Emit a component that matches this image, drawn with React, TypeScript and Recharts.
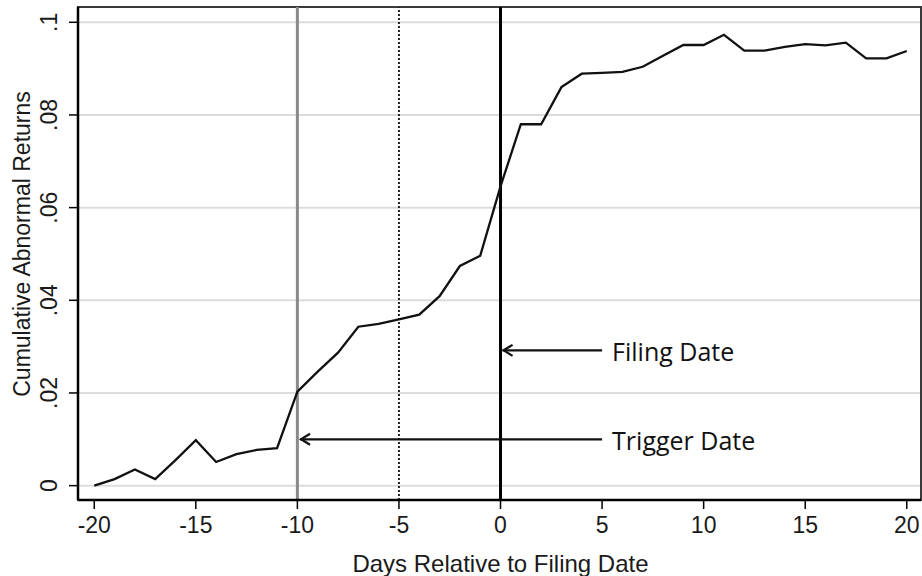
import React from "react";
import {
  LineChart,
  Line,
  XAxis,
  YAxis,
  CartesianGrid,
  ReferenceLine,
  ReferenceArea,
  Label,
} from "recharts";

const days = [
  -20, -19, -18, -17, -16, -15, -14, -13, -12, -11, -10, -9, -8, -7, -6, -5, -4, -3, -2, -1,
  0, 1, 2, 3, 4, 5, 6, 7, 8, 9, 10, 11, 12, 13, 14, 15, 16, 17, 18, 19, 20,
];
const car = [
  0.0, 0.0014, 0.0035, 0.0014, 0.0055, 0.0098, 0.0051, 0.0068, 0.0077, 0.0081, 0.0203,
  0.0246, 0.0287, 0.0343, 0.0349, 0.0359, 0.0369, 0.0409, 0.0474, 0.0496,
  0.0646, 0.078, 0.078, 0.086, 0.0889, 0.0891, 0.0893, 0.0904, 0.0928, 0.0951, 0.0951,
  0.0973, 0.0939, 0.0939, 0.0947, 0.0953, 0.095, 0.0956, 0.0922, 0.0922, 0.0938,
];
const xTicks = [-20, -15, -10, -5, 0, 5, 10, 15, 20];
const yTicks = [0, 0.02, 0.04, 0.06, 0.08, 0.1];
const yTickLabels = ["0", ".02", ".04", ".06", ".08", ".1"];
const xDomain = [-20.8, 20.7];
const yDomain = [-0.0031, 0.1033];

const refDays = { trigger: -10, mid: -5, filing: 0 };
const arrows = [
  { label: "Filing Date", from: 5.0, to: 0.1, y: 0.0292 },
  { label: "Trigger Date", from: 5.0, to: -9.87, y: 0.01 },
];

const data = days.map((d, i) => ({ day: d, car: car[i] }));

const AXIS_FONT = "'Liberation Sans', Arial, sans-serif";

const makeArrow = (text: string) => (props: any) => {
  const { x1, y1, x2, y2 } = props;
  const tipX = Math.min(x1, x2);
  const endX = Math.max(x1, x2);
  const y = y1;
  return (
    <g>
      <line x1={tipX} y1={y} x2={endX} y2={y2} stroke="#111" strokeWidth={2.2} />
      <polyline
        points={`${tipX + 10},${y - 5.5} ${tipX + 1},${y} ${tipX + 10},${y + 5.5}`}
        fill="none"
        stroke="#111"
        strokeWidth={2.2}
      />
      <text
        x={endX + 10}
        y={y + 10.4}
        fontFamily="'Open Sans', sans-serif"
        fontSize={25}
        fill="#111"
      >
        {text}
      </text>
    </g>
  );
};

const YTick = (props: any) => {
  const { x, y, payload } = props;
  const idx = yTicks.findIndex((t) => Math.abs(t - payload.value) < 1e-9);
  const label = idx >= 0 ? yTickLabels[idx] : String(payload.value);
  return (
    <text
      x={x}
      y={y}
      transform={`rotate(-90, ${x}, ${y})`}
      textAnchor="middle"
      fontFamily={AXIS_FONT}
      fontSize={23}
      fill="#1a1a1a"
    >
      {label}
    </text>
  );
};

export default function App() {
  return (
    <div style={{ position: "absolute", left: 0, top: 0, background: "#fff" }}>
      <LineChart
        width={922}
        height={576}
        data={data}
        margin={{ top: 7, right: 1, left: 0, bottom: 0 }}
      >
        <CartesianGrid
          horizontal={true}
          vertical={false}
          stroke="#dcdcdc"
          strokeWidth={2}
        />
        <ReferenceArea
          x1={xDomain[0]}
          x2={xDomain[1]}
          y1={yDomain[0]}
          y2={yDomain[1]}
          fill="none"
          stroke="#3a3a3a"
          strokeWidth={2}
          fillOpacity={0}
        />
        <XAxis
          type="number"
          dataKey="day"
          domain={xDomain}
          ticks={xTicks}
          allowDataOverflow
          height={76}
          tickSize={9}
          tickMargin={8}
          axisLine={{ stroke: "#000", strokeWidth: 2.5 }}
          tickLine={{ stroke: "#000", strokeWidth: 1.5 }}
          tick={{ fontFamily: AXIS_FONT, fontSize: 23, fill: "#1a1a1a" }}
        >
          <Label
            content={(p: any) => {
              const vb = p.viewBox;
              return (
                <text
                  x={vb.x + vb.width / 2 + 1}
                  y={vb.y + 71.5}
                  textAnchor="middle"
                  fontFamily={AXIS_FONT}
                  fontSize={24}
                  fill="#1a1a1a"
                >
                  Days Relative to Filing Date
                </text>
              );
            }}
          />
        </XAxis>
        <YAxis
          type="number"
          domain={yDomain}
          ticks={yTicks}
          allowDataOverflow
          width={78}
          tickSize={9}
          tickMargin={12}
          axisLine={{ stroke: "#000", strokeWidth: 2.5 }}
          tickLine={{ stroke: "#000", strokeWidth: 1.5 }}
          tick={<YTick />}
        >
          <Label
            content={(p: any) => {
              const vb = p.viewBox;
              const cx = vb.x + 30;
              const cy = vb.y + vb.height / 2 - 9.5;
              return (
                <text
                  x={cx}
                  y={cy}
                  transform={`rotate(-90, ${cx}, ${cy})`}
                  textAnchor="middle"
                  fontFamily={AXIS_FONT}
                  fontSize={23}
                  fill="#1a1a1a"
                >
                  Cumulative Abnormal Returns
                </text>
              );
            }}
          />
        </YAxis>
        <ReferenceLine x={refDays.trigger} stroke="#8a8a8a" strokeWidth={3} />
        <ReferenceLine
          x={refDays.mid}
          stroke="#222"
          strokeWidth={2}
          strokeDasharray="2 2"
        />
        <ReferenceLine x={refDays.filing} stroke="#000" strokeWidth={3} />
        {arrows.map((a) => (
          <ReferenceLine
            key={a.label}
            segment={[
              { x: a.to, y: a.y },
              { x: a.from, y: a.y },
            ]}
            shape={makeArrow(a.label)}
          />
        ))}
        <Line
          type="linear"
          dataKey="car"
          stroke="#111"
          strokeWidth={2.3}
          dot={false}
          isAnimationActive={false}
        />
      </LineChart>
    </div>
  );
}
